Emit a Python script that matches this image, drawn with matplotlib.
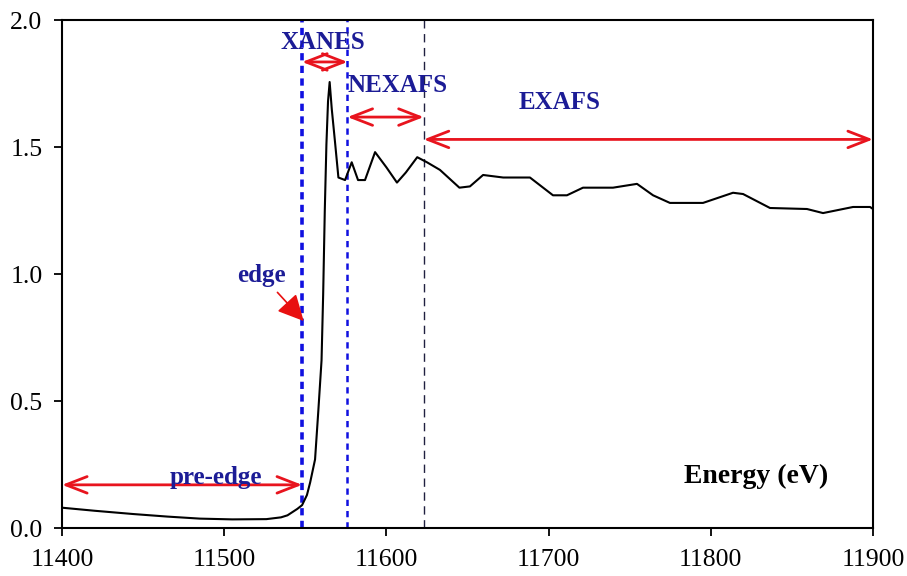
import matplotlib.pyplot as plt

# XAS spectrum
energy = [11400, 11420, 11444, 11465, 11485, 11505, 11526, 11535, 11539, 11545,
          11548, 11551, 11553, 11556, 11558, 11560, 11561, 11562, 11563, 11564,
          11565, 11566.3, 11568.3, 11570.4, 11574.5, 11578.6, 11582.5, 11586.8,
          11593, 11600, 11606.5, 11612, 11619, 11625, 11633, 11645, 11651.5,
          11659.6, 11672, 11688.5, 11702.7, 11711.3, 11721.2, 11739.7, 11754.5,
          11764.4, 11774.8, 11795.2, 11813.7, 11819.9, 11836.5, 11859.3, 11869.2,
          11887.7, 11898.2, 11900]
absorb = [0.08, 0.068, 0.055, 0.045, 0.037, 0.034, 0.035, 0.042, 0.05, 0.075,
          0.09, 0.13, 0.18, 0.27, 0.46, 0.66, 0.92, 1.25, 1.51, 1.68,
          1.756, 1.65, 1.52, 1.38, 1.37, 1.44, 1.37, 1.37,
          1.48, 1.42, 1.36, 1.40, 1.46, 1.44, 1.41, 1.34, 1.345,
          1.39, 1.38, 1.38, 1.31, 1.31, 1.34, 1.34, 1.355,
          1.31, 1.28, 1.28, 1.32, 1.315, 1.26, 1.256, 1.24,
          1.264, 1.264, 1.256]

# region boundaries (eV)
E_START = 11400
E_EDGE = 11548
E_XANES = 11576
E_NEXAFS = 11623
E_END = 11900

regions = ['pre-edge', 'XANES', 'NEXAFS', 'EXAFS']
region_x = [(E_START, E_EDGE), (E_EDGE, E_XANES), (E_XANES, E_NEXAFS), (E_NEXAFS, E_END)]
arrow_y = [0.17, 1.835, 1.618, 1.53]
label_xy = [(11495, 0.2), (11561, 1.913), (11607, 1.744), (11707, 1.677)]

xticks = [11400, 11500, 11600, 11700, 11800, 11900]
yticks = [0.0, 0.5, 1.0, 1.5, 2.0]

plt.rcParams['font.family'] = ['Liberation Serif', 'DejaVu Serif']
navy = '#1c1c96'
red = '#e8141e'

fig = plt.figure(figsize=(9.07, 5.76), dpi=100)
ax = fig.add_axes([0.0684, 0.0833, 0.8941, 0.8819])

ax.plot(energy, absorb, color='black', lw=1.5, zorder=3)

ax.axvline(E_EDGE, color='#1010e0', ls=(0, (2, 1.5)), lw=2.6, zorder=2)
ax.axvline(E_XANES, color='#1010e0', ls=(0, (2.5, 2)), lw=1.8, zorder=2)
ax.axvline(E_NEXAFS, color='#202040', ls=(0, (6, 4)), lw=1.0, zorder=2)

for name, (x0, x1), ya, (tx, ty) in zip(regions, region_x, arrow_y, label_xy):
    ax.annotate('', xy=(x0, ya), xytext=(x1, ya),
                arrowprops=dict(arrowstyle='<->,head_length=0.9,head_width=0.35',
                                color=red, lw=2, shrinkA=0, shrinkB=0,
                                mutation_scale=17))
    ax.text(tx, ty, name, color=navy, fontsize=18, fontweight='bold',
            ha='center', va='center', zorder=4)

# edge marker
ax.annotate('edge', xy=(E_EDGE + 1, 0.815), xytext=(11523, 0.996),
            color=navy, fontsize=18, fontweight='bold', ha='center', va='center',
            arrowprops=dict(arrowstyle='-|>,head_length=1.0,head_width=0.5',
                            color='#e81010', lw=1.2, shrinkA=3, shrinkB=0,
                            mutation_scale=16))

ax.text(11828, 0.205, 'Energy (eV)', fontsize=20, fontweight='bold',
        ha='center', va='center', color='black')

ax.set_xlim(E_START, E_END)
ax.set_ylim(0, 2.0)
ax.set_xticks(xticks)
ax.set_yticks(yticks)
ax.set_yticklabels(['%.1f' % v for v in yticks])
ax.tick_params(direction='out', length=6, width=1.3, labelsize=18.5, pad=8)
ax.tick_params(axis='x', pad=9)
for s in ax.spines.values():
    s.set_linewidth(1.5)

plt.savefig('out.png', dpi=100)
